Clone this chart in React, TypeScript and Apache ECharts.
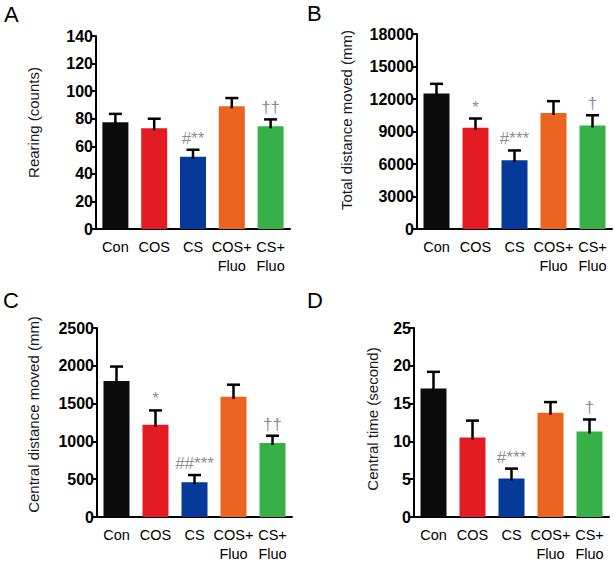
import React, { useEffect, useRef } from "react";
import * as echarts from "echarts";

const categories = ["Con", "COS", "CS", "COS+\nFluo", "CS+\nFluo"];
const barColors = ["#0b0b0b", "#e31b23", "#06399a", "#ea641f", "#38b048"];

// Panel A: Rearing (counts)
const rearingMean = [77.5, 73, 52.5, 89, 74.5];
const rearingSem = [6, 7, 5, 6, 5];
const rearingMarks = ["", "", "#**", "", "††"];

// Panel B: Total distance moved (mm)
const totalDistMean = [12500, 9350, 6350, 10700, 9550];
const totalDistSem = [900, 850, 900, 1100, 950];
const totalDistMarks = ["", "*", "#***", "", "†"];

// Panel C: Central distance moved (mm)
const centralDistMean = [1800, 1220, 460, 1590, 980];
const centralDistSem = [190, 190, 95, 160, 95];
const centralDistMarks = ["", "*", "##***", "", "††"];

// Panel D: Central time (second)
const centralTimeMean = [17, 10.5, 5.1, 13.8, 11.3];
const centralTimeSem = [2.2, 2.25, 1.3, 1.4, 1.6];
const centralTimeMarks = ["", "", "#***", "", "†"];

const FONT = "Liberation Sans, Arial, Helvetica, sans-serif";

type Panel = {
  letter: string;
  title: string;
  mean: number[];
  sem: number[];
  marks: string[];
  max: number;
  interval: number;
  grid: { left: number; top: number; width: number; height: number };
  letterPos: { left: number; top: number };
  titlePos: { x: number; y: number };
};

const panels: Panel[] = [
  {
    letter: "A", title: "Rearing (counts)", mean: rearingMean, sem: rearingSem, marks: rearingMarks,
    max: 140, interval: 20, grid: { left: 96, top: 36, width: 194, height: 193 },
    letterPos: { left: 4, top: 3 }, titlePos: { x: 33.5, y: 122.5 },
  },
  {
    letter: "B", title: "Total distance moved (mm)", mean: totalDistMean, sem: totalDistSem, marks: totalDistMarks,
    max: 18000, interval: 3000, grid: { left: 417, top: 34, width: 195, height: 195 },
    letterPos: { left: 307, top: 2 }, titlePos: { x: 346, y: 120 },
  },
  {
    letter: "C", title: "Central distance moved (mm)", mean: centralDistMean, sem: centralDistSem, marks: centralDistMarks,
    max: 2500, interval: 500, grid: { left: 97, top: 328, width: 195, height: 191 },
    letterPos: { left: 3, top: 289 }, titlePos: { x: 33.5, y: 414.5 },
  },
  {
    letter: "D", title: "Central time (second)", mean: centralTimeMean, sem: centralTimeSem, marks: centralTimeMarks,
    max: 25, interval: 5, grid: { left: 414, top: 328, width: 195, height: 191 },
    letterPos: { left: 307, top: 289 }, titlePos: { x: 372.5, y: 419 },
  },
];

function buildOption() {
  const grid: any[] = [];
  const xAxis: any[] = [];
  const yAxis: any[] = [];
  const series: any[] = [];
  const title: any[] = [];
  const graphic: any[] = [];

  panels.forEach((p, i) => {
    grid.push({ ...p.grid, containLabel: false });
    title.push({
      text: p.letter,
      left: p.letterPos.left,
      top: p.letterPos.top,
      padding: 0,
      textStyle: { fontSize: 22, fontWeight: "normal", color: "#000", fontFamily: FONT },
    });
    graphic.push({
      type: "text",
      x: p.titlePos.x,
      y: p.titlePos.y,
      rotation: Math.PI / 2,
      style: {
        text: p.title,
        fontSize: 15,
        fontFamily: FONT,
        fill: "#1a1a1a",
        align: "center",
        verticalAlign: "middle",
      },
    });
    xAxis.push({
      type: "category",
      gridIndex: i,
      data: categories,
      axisLine: { lineStyle: { color: "#000", width: 2 } },
      axisTick: { alignWithLabel: true, length: 5, lineStyle: { color: "#000", width: 2 } },
      axisLabel: { color: "#000", fontSize: 14.5, lineHeight: 19, margin: 8, fontFamily: FONT, interval: 0 },
      splitLine: { show: false },
    });
    yAxis.push({
      type: "value",
      gridIndex: i,
      min: 0,
      max: p.max,
      interval: p.interval,
      axisLine: { show: true, lineStyle: { color: "#000", width: 2 } },
      axisTick: { show: true, length: 5, lineStyle: { color: "#000", width: 2 } },
      axisLabel: {
        color: "#000", fontSize: 16, fontWeight: "bold", margin: 3, fontFamily: FONT,
        formatter: (v: number) => String(v),
      },
      splitLine: { show: false },
    });
    series.push({
      type: "bar",
      xAxisIndex: i,
      yAxisIndex: i,
      barWidth: 26,
      data: p.mean.map((v, k) => ({ value: v, itemStyle: { color: barColors[k] } })),
      z: 2,
    });
    series.push({
      type: "custom",
      xAxisIndex: i,
      yAxisIndex: i,
      z: 3,
      data: p.mean.map((v, k) => [k, v, v + p.sem[k]]),
      encode: { x: 0, y: [1, 2] },
      renderItem: (params: any, api: any) => {
        const base = api.coord([api.value(0), api.value(1)]);
        const top = api.coord([api.value(0), api.value(2)]);
        const half = 6.5;
        const style = { stroke: "#000", lineWidth: 2.5 };
        return {
          type: "group",
          children: [
            { type: "line", shape: { x1: base[0], y1: base[1] + 2, x2: top[0], y2: top[1] }, style },
            { type: "line", shape: { x1: top[0] - half, y1: top[1], x2: top[0] + half, y2: top[1] }, style },
          ],
        };
      },
    });
    series.push({
      type: "scatter",
      xAxisIndex: i,
      yAxisIndex: i,
      symbolSize: 0,
      z: 4,
      data: p.mean.map((v, k) => [k, v + p.sem[k]]),
      label: {
        show: true,
        position: "top",
        distance: 3,
        color: "#6e6e6e",
        fontSize: 17,
        fontFamily: FONT,
        formatter: (params: any) => p.marks[params.dataIndex],
      },
    });
  });

  return { animation: false, title, grid, xAxis, yAxis, series, graphic };
}

export default function App() {
  const ref = useRef<HTMLDivElement>(null);
  useEffect(() => {
    document.body.style.margin = "0";
    if (!ref.current) return;
    const chart = echarts.init(ref.current, null, { renderer: "svg" });
    chart.setOption(buildOption() as any);
    return () => chart.dispose();
  }, []);
  return <div ref={ref} style={{ width: 614, height: 563, background: "#fff" }} />;
}
